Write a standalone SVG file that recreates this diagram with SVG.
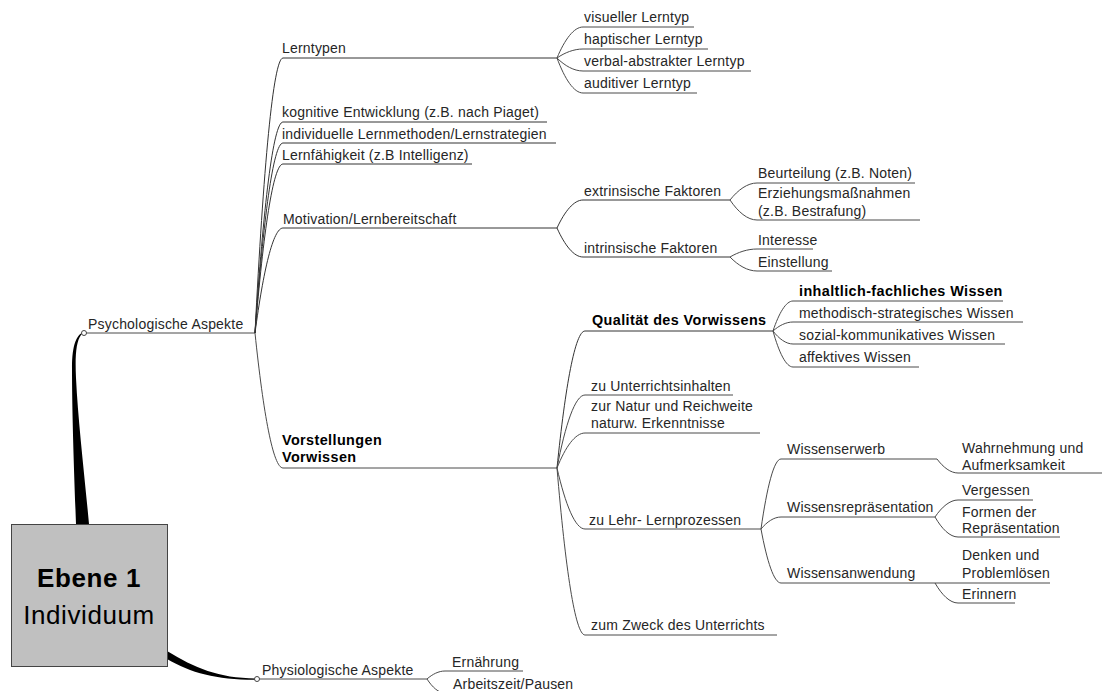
<svg xmlns="http://www.w3.org/2000/svg" width="1102" height="691" viewBox="0 0 1102 691">
  <style>
    .t { font-family: "Liberation Sans", Arial, sans-serif; font-size: 14px; fill: #262626; letter-spacing: 0.2px; }
    .b { font-family: "Liberation Sans", Arial, sans-serif; font-size: 14.4px; font-weight: bold; fill: #000; letter-spacing: 0.4px; }
    .c { fill: none; stroke: #333; stroke-width: 1; }
    .c2 { fill: none; stroke: #4a4a4a; stroke-width: 1; }
    .root-t { font-family: "Liberation Sans", Arial, sans-serif; font-size: 26px; fill: #000; text-anchor: middle; letter-spacing: 0.6px; }
    .dot { fill: #fff; stroke: #444; stroke-width: 1; }
  </style>

  <!-- connectors: curve from parent junction, then the underline of the child -->
  <g id="connectors">
    <!-- tapered trunks from the central box -->
    <path d="M76,524 L89,524 C84,470 78,420 76,378 C75,356 76,342 81,335 L84,332 C77,334 72,344 72,368 C72,410 74,470 76,524 Z" fill="#000"/>
    <path d="M167,651 C195,668 218,678 256,678.5 L256,679.8 C217,680 191,673 167,659 Z" fill="#000"/>
    <path class="c2" d="M86,333 H255"/>
    <path class="c2" d="M259,679 H427"/>

    <!-- Psychologische Aspekte -->
    <path class="c" d="M255,333 C263.4,168 273.2,58 283,58 H557"/>
    <path class="c" d="M255,333 C263.4,206.4 273.2,122 283,122 H547"/>
    <path class="c" d="M255,333 C263.4,219 273.2,143 283,143 H556"/>
    <path class="c" d="M255,333 C263.4,231.6 273.2,164 283,164 H472"/>
    <path class="c" d="M255,333 C263.4,270 273.2,228 283,228 H557"/>
    <path class="c2" d="M255,333 C263.4,414 273.2,468 283,468 H557"/>

    <!-- Lerntypen -->
    <path class="c2" d="M557,58 C564.8,39.4 573.9,27 583,27 H694"/>
    <path class="c2" d="M557,58 C564.8,52.6 573.9,49 583,49 H708"/>
    <path class="c2" d="M557,58 C564.8,65.8 573.9,71 583,71 H751"/>
    <path class="c2" d="M557,58 C564.8,79 573.9,93 583,93 H697"/>

    <!-- Motivation -->
    <path class="c" d="M557,228 C564.8,211.2 573.9,200 583,200 H730"/>
    <path class="c" d="M557,228 C564.8,245.4 573.9,257 583,257 H730"/>
    <path class="c2" d="M730,200 C738.1,189.8 747.5,183 757,183 H915"/>
    <path class="c2" d="M730,200 C738.1,212 747.5,220 757,220 H920"/>
    <path class="c2" d="M730,257 C738.1,252.2 747.5,249 757,249 H813"/>
    <path class="c2" d="M730,257 C738.1,265.4 747.5,271 757,271 H832"/>

    <!-- Vorstellungen / Vorwissen -->
    <path class="c" d="M557,468 C565.4,385.8 575.2,331 585,331 H773"/>
    <path class="c2" d="M557,468 C565.4,424.2 575.2,395 585,395 H733"/>
    <path class="c2" d="M557,468 C565.4,447 575.2,433 585,433 H760"/>
    <path class="c2" d="M557,468 C565.4,504.6 575.2,529 585,529 H761"/>
    <path class="c2" d="M557,468 C565.4,568.2 575.2,635 585,635 H777"/>

    <!-- Qualitaet des Vorwissens -->
    <path class="c2" d="M773,331 C779,313 786,301 793,301 H1003"/>
    <path class="c2" d="M773,331 C779,325.6 786,322 793,322 H1023"/>
    <path class="c2" d="M773,331 C779,338.8 786,344 793,344 H1005"/>
    <path class="c2" d="M773,331 C779,352.6 786,367 793,367 H919"/>

    <!-- zu Lehr- Lernprozessen -->
    <path class="c2" d="M761,529 C767,487 774,459 781,459 H937"/>
    <path class="c2" d="M761,529 C767,521.8 774,517 781,517 H935"/>
    <path class="c2" d="M761,529 C767,561.4 774,583 781,583 H935"/>
    <path class="c2" d="M937,459 C943.3,467.4 950.6,473 958,473 H1102"/>
    <path class="c2" d="M935,517 C941.9,506.8 950,500 958,500 H1033"/>
    <path class="c2" d="M935,517 C941.9,529 950,537 958,537 H1060"/>
    <path class="c2" d="M935,583 H1050"/>
    <path class="c2" d="M935,583 C941.9,595 950,603 958,603 H1015"/>

    <!-- Physiologische Aspekte -->
    <path class="c2" d="M427,679 C432.4,674.2 438.7,671 445,671 H523"/>
    <path class="c2" d="M427,679 C432.4,687.4 438.7,693 445,693 H540"/>

    <circle class="dot" cx="84" cy="333" r="2.5"/>
    <circle class="dot" cx="257" cy="679" r="2.5"/>
  </g>

  <!-- central topic -->
  <g id="root">
    <rect x="11.5" y="524.5" width="156" height="142" fill="#c0c0c0" stroke="#444" stroke-width="1"/>
    <text class="root-t" x="89" y="587" font-weight="bold">Ebene 1</text>
    <text class="root-t" x="89" y="624">Individuum</text>
  </g>

  <g id="psychologische-aspekte"><text class="t" x="88" y="329">Psychologische Aspekte</text></g>
  <g id="physiologische-aspekte"><text class="t" x="262" y="675">Physiologische Aspekte</text></g>

  <g id="lerntypen"><text class="t" x="282" y="53">Lerntypen</text></g>
  <g id="visuell"><text class="t" x="584" y="22">visueller Lerntyp</text></g>
  <g id="haptisch"><text class="t" x="584" y="44">haptischer Lerntyp</text></g>
  <g id="verbal"><text class="t" x="584" y="66">verbal-abstrakter Lerntyp</text></g>
  <g id="auditiv"><text class="t" x="584" y="88">auditiver Lerntyp</text></g>

  <g id="kognitive-entwicklung"><text class="t" x="282" y="117">kognitive Entwicklung (z.B. nach Piaget)</text></g>
  <g id="lernmethoden"><text class="t" x="282" y="139">individuelle Lernmethoden/Lernstrategien</text></g>
  <g id="lernfaehigkeit"><text class="t" x="282" y="160">Lernfähigkeit (z.B Intelligenz)</text></g>

  <g id="motivation"><text class="t" x="283" y="224">Motivation/Lernbereitschaft</text></g>
  <g id="extrinsisch"><text class="t" x="584" y="196">extrinsische Faktoren</text></g>
  <g id="beurteilung"><text class="t" x="758" y="178">Beurteilung (z.B. Noten)</text></g>
  <g id="erziehung"><text class="t" x="758" y="198">Erziehungsmaßnahmen</text><text class="t" x="758" y="216">(z.B. Bestrafung)</text></g>
  <g id="intrinsisch"><text class="t" x="584" y="253">intrinsische Faktoren</text></g>
  <g id="interesse"><text class="t" x="758" y="245">Interesse</text></g>
  <g id="einstellung"><text class="t" x="758" y="267">Einstellung</text></g>

  <g id="vorstellungen"><text class="b" x="282" y="445">Vorstellungen</text><text class="b" x="282" y="462">Vorwissen</text></g>
  <g id="qualitaet"><text class="b" x="592" y="325">Qualität des Vorwissens</text></g>
  <g id="inhaltlich"><text class="b" x="799" y="296">inhaltlich-fachliches Wissen</text></g>
  <g id="methodisch"><text class="t" x="799" y="318">methodisch-strategisches Wissen</text></g>
  <g id="sozial"><text class="t" x="799" y="340">sozial-kommunikatives Wissen</text></g>
  <g id="affektiv"><text class="t" x="799" y="362">affektives Wissen</text></g>

  <g id="unterrichtsinhalte"><text class="t" x="591" y="391">zu Unterrichtsinhalten</text></g>
  <g id="natur"><text class="t" x="591" y="411">zur Natur und Reichweite</text><text class="t" x="591" y="428">naturw. Erkenntnisse</text></g>
  <g id="lehr-lern"><text class="t" x="589" y="525">zu Lehr- Lernprozessen</text></g>
  <g id="wissenserwerb"><text class="t" x="787" y="454">Wissenserwerb</text></g>
  <g id="wahrnehmung"><text class="t" x="962" y="453">Wahrnehmung und</text><text class="t" x="962" y="470">Aufmerksamkeit</text></g>
  <g id="repraesentation"><text class="t" x="787" y="512">Wissensrepräsentation</text></g>
  <g id="vergessen"><text class="t" x="962" y="495">Vergessen</text></g>
  <g id="formen"><text class="t" x="962" y="517">Formen der</text><text class="t" x="962" y="533">Repräsentation</text></g>
  <g id="anwendung"><text class="t" x="787" y="578">Wissensanwendung</text></g>
  <g id="denken"><text class="t" x="962" y="560">Denken und</text><text class="t" x="962" y="578">Problemlösen</text></g>
  <g id="erinnern"><text class="t" x="962" y="599">Erinnern</text></g>
  <g id="zweck"><text class="t" x="591" y="630">zum Zweck des Unterrichts</text></g>

  <g id="ernaehrung"><text class="t" x="452" y="667">Ernährung</text></g>
  <g id="arbeitszeit"><text class="t" x="453" y="689">Arbeitszeit/Pausen</text></g>
</svg>
